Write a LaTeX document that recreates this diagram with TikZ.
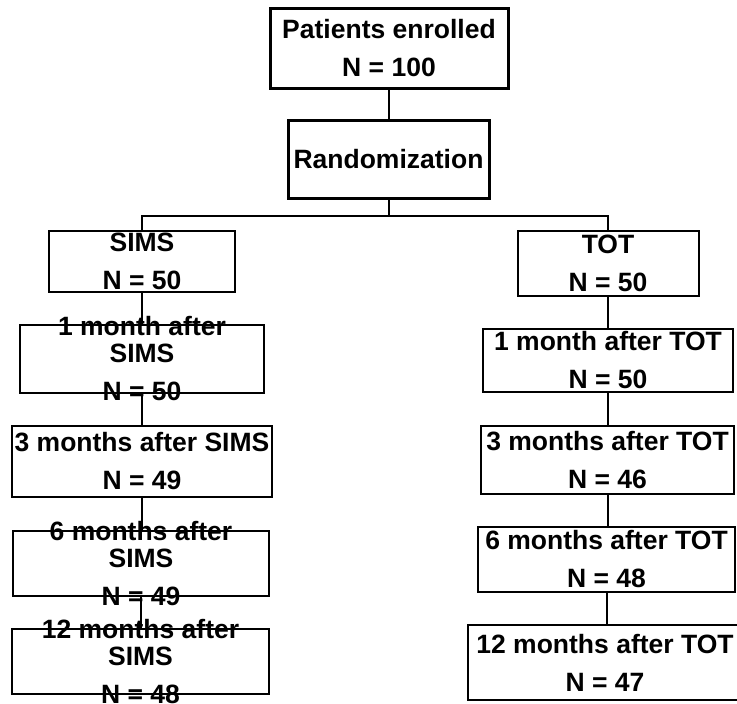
\documentclass[tikz,border=0pt]{standalone}
\usepackage{fontspec}
\setmainfont{Liberation Sans}
\usetikzlibrary{positioning}

\tikzset{
  stage/.style={draw, line width=2pt, inner sep=0pt, outer sep=0pt},
  mainstage/.style={stage, line width=3pt},
  lbl/.style={align=center, inner sep=0pt, font=\fontsize{26.5}{38}\selectfont\bfseries},
  link/.style={line width=2pt}
}

\begin{document}
\begin{tikzpicture}[x=1pt,y=-1pt]
  \useasboundingbox (0,0) rectangle (737,704);
  % enrolment and randomization
  \node[mainstage, minimum width=238pt, minimum height=80pt] (enrol) at (389,48) {};
  \node[lbl] (enrol-t) at (enrol) {Patients enrolled\\N = 100};
  \node[mainstage, minimum width=201pt, minimum height=78pt] (rand) at (388.5,159) {};
  \node[lbl] (rand-t) at (rand) {Randomization};
  \coordinate (split) at (388.5,216);

  % SIMS arm
  \node[stage, minimum width=186pt, minimum height=61pt] (sims) at (142,261.5) {};
  \node[lbl] (sims-t) at (sims) {SIMS\\N = 50};
  \node[stage, minimum width=244pt, minimum height=68pt] (sims1) at (142,359) {};
  \node[lbl] (sims1-t) at (sims1) {1 month after\\[-11pt]SIMS\\N = 50};
  \node[stage, minimum width=260pt, minimum height=71pt] (sims3) at (142,461.5) {};
  \node[lbl] (sims3-t) at (sims3) {3 months after SIMS\\N = 49};
  \node[stage, minimum width=256pt, minimum height=65pt] (sims6) at (141,563.5) {};
  \node[lbl] (sims6-t) at (sims6) {6 months after\\[-11pt]SIMS\\N = 49};
  \node[stage, minimum width=257pt, minimum height=65pt] (sims12) at (140.5,661.5) {};
  \node[lbl] (sims12-t) at (sims12) {12 months after\\[-11pt]SIMS\\N = 48};

  % TOT arm
  \node[stage, minimum width=181pt, minimum height=65pt] (tot) at (608,263.5) {};
  \node[lbl] (tot-t) at (tot) {TOT\\N = 50};
  \node[stage, minimum width=250pt, minimum height=63pt] (tot1) at (608,360.5) {};
  \node[lbl] (tot1-t) at (tot1) {1 month after TOT\\N = 50};
  \node[stage, minimum width=253pt, minimum height=68pt] (tot3) at (607.5,460) {};
  \node[lbl] (tot3-t) at (tot3) {3 months after TOT\\N = 46};
  \node[stage, minimum width=257pt, minimum height=65pt] (tot6) at (606.5,559.5) {};
  \node[lbl] (tot6-t) at (tot6) {6 months after TOT\\N = 48};
  \node[stage, minimum width=274pt, minimum height=75pt] (tot12) at (605,662.5) {};
  \node[lbl] (tot12-t) at (tot12) {12 months after TOT\\N = 47};

  % connectors
  \draw[link] (enrol.south) -- (enrol.south |- rand.north);
  \draw[link] (rand.south) -- (split);
  \draw[link] (sims.north) |- (split) -| (tot.north);
  \foreach \a/\b in {sims/sims1, sims1/sims3, sims3/sims6, sims6/sims12,
                     tot/tot1, tot1/tot3, tot3/tot6, tot6/tot12}
    \draw[link] (\a.south) -- (\a.south |- \b.north);
\end{tikzpicture}
\end{document}
